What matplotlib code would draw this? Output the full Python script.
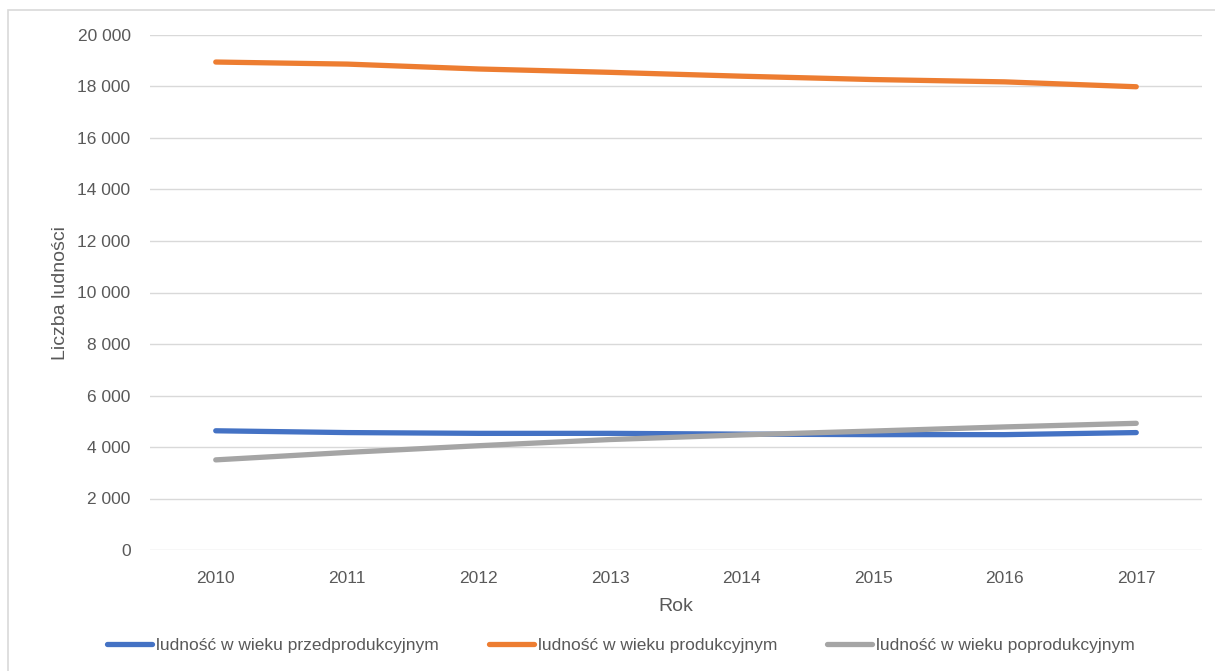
import matplotlib
matplotlib.use("Agg")
import matplotlib.pyplot as plt
from matplotlib.patches import Rectangle
from matplotlib.ticker import FuncFormatter, MultipleLocator

years = ["2010", "2011", "2012", "2013", "2014", "2015", "2016", "2017"]
przed = [4630, 4560, 4530, 4530, 4500, 4480, 4480, 4560]
prod = [18950, 18870, 18680, 18550, 18400, 18270, 18180, 17990]
poprod = [3500, 3790, 4050, 4290, 4470, 4620, 4780, 4920]

series_labels = ["ludność w wieku przedprodukcyjnym",
                 "ludność w wieku produkcyjnym",
                 "ludność w wieku poprodukcyjnym"]
colors = ["#4472C4", "#ED7D31", "#A5A5A5"]

plt.rcParams['font.family'] = ['Liberation Sans', 'DejaVu Sans']
txt = "#595959"

W, H = 1215, 671
fig = plt.figure(figsize=(W / 100, H / 100), dpi=100)
fig.patches.append(Rectangle((8 / W, -0.1), 1.2, 1 - 10 / H + 0.1,
                             transform=fig.transFigure, fill=False,
                             edgecolor="#D9D9D9", linewidth=1.2))

ax = fig.add_axes([150 / W, 1 - 550 / H, (1202 - 150) / W, (550 - 35) / H])
x = list(range(len(years)))
for vals, lab, c in zip([przed, prod, poprod], series_labels, colors):
    ax.plot(x, vals, color=c, linewidth=3.8, solid_capstyle="round",
            solid_joinstyle="round", label=lab, zorder=3)

ax.set_xlim(-0.5, len(years) - 0.5)
ax.set_ylim(0, 20000)
ax.yaxis.set_major_locator(MultipleLocator(2000))
ax.yaxis.set_major_formatter(FuncFormatter(lambda v, p: f"{int(v):,}".replace(",", " ")))
ax.set_xticks(x)
ax.set_xticklabels(years)
ax.grid(axis="y", color="#D9D9D9", linewidth=1)
ax.set_axisbelow(True)
for s in ["top", "right", "left", "bottom"]:
    ax.spines[s].set_visible(False)
ax.tick_params(axis="both", length=0, labelsize=12.5, labelcolor=txt)
ax.tick_params(axis="y", pad=14)
ax.tick_params(axis="x", pad=15)
ax.set_xlabel("Rok", fontsize=14, color=txt, labelpad=9)
ax.set_ylabel("Liczba ludności", fontsize=14, color=txt, labelpad=6)

leg = fig.legend(loc="center", bbox_to_anchor=(621 / W, 1 - 645 / H), ncol=3,
                 frameon=False, fontsize=12.5, handlelength=2.6, handletextpad=0.2,
                 columnspacing=2.9, labelcolor=txt)

fig.savefig("out.png", dpi=100)
